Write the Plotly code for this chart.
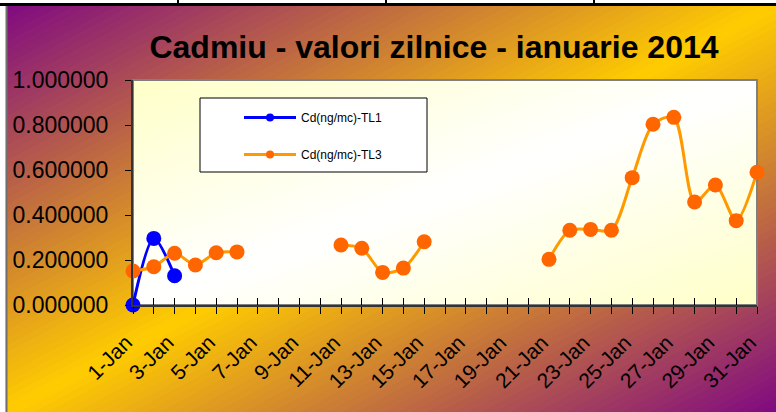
import plotly.graph_objects as go

# ---------------- data ----------------
days = list(range(1, 32))
tick_days = [1, 3, 5, 7, 9, 11, 13, 15, 17, 19, 21, 23, 25, 27, 29, 31]
tick_labels = ["1-Jan", "3-Jan", "5-Jan", "7-Jan", "9-Jan", "11-Jan", "13-Jan", "15-Jan",
               "17-Jan", "19-Jan", "21-Jan", "23-Jan", "25-Jan", "27-Jan", "29-Jan", "31-Jan"]
tl1 = [0.000, 0.296, 0.130] + [None] * 28
tl3 = [0.151, 0.170, 0.230, 0.178, 0.232, 0.236, None, None, None, None,
       0.267, 0.252, 0.145, 0.164, 0.281, None, None, None, None, None,
       0.203, 0.332, 0.336, 0.332, 0.566, 0.803, 0.834, 0.458, 0.533, 0.375, 0.590]
y_ticks = [0.0, 0.2, 0.4, 0.6, 0.8, 1.0]
name1 = "Cd(ng/mc)-TL1"
name3 = "Cd(ng/mc)-TL3"
title = "Cadmiu - valori zilnice - ianuarie 2014"

# ---------------- geometry (pixels) ----------------
W, H = 776, 412
L, R, T, B = 133, 757, 80, 305
PW, PH = R - L, B - T


def px(x):
    return (x - L) / PW


def py(y):
    return (B - y) / PH


def clip(poly, a, b, c):
    # keep a*x + b*y >= c
    out = []
    n = len(poly)
    for i in range(n):
        p, q = poly[i], poly[(i + 1) % n]
        fp = a * p[0] + b * p[1] - c
        fq = a * q[0] + b * q[1] - c
        if fp >= 0:
            out.append(p)
        if (fp >= 0) != (fq >= 0):
            t = fp / (fp - fq)
            out.append((p[0] + t * (q[0] - p[0]), p[1] + t * (q[1] - p[1])))
    return out


def path_of(poly):
    return "M " + " L ".join(f"{px(x):.5f},{py(y):.5f}" for x, y in poly) + " Z"


def mix(c1, c2, t):
    return "rgb(%d,%d,%d)" % tuple(round(a + (b - a) * t) for a, b in zip(c1, c2))


def gradient_shapes(x0, y0, x1, y1, cend, cmid, n):
    shapes = []
    rect = [(x0, y0), (x1, y0), (x1, y1), (x0, y1)]
    w, h = x1 - x0, y1 - y0
    for i in range(n):
        s0 = 2.0 * i / n
        smid = 2.0 * (i + 0.5) / n
        t = smid / 2.0
        f = 1 - abs(t - 0.5) * 2  # 0 at ends, 1 in the middle
        col = mix(cend, cmid, f)
        poly = rect if i == 0 else clip(rect, 1 / w, 1 / h, s0 + x0 / w + y0 / h)
        if len(poly) < 3:
            continue
        shapes.append(dict(type="path", xref="paper", yref="paper", path=path_of(poly),
                           fillcolor=col, line=dict(width=0), layer="below"))
    return shapes


shapes = []
# outer gradient frame
shapes += gradient_shapes(6, 5, W, H, (128, 10, 130), (255, 204, 0), 110)
# plot area gradient
shapes += gradient_shapes(L, T, R, B, (255, 255, 200), (255, 255, 255), 40)
# plot area border
shapes.append(dict(type="rect", xref="paper", yref="paper", x0=0, y0=0, x1=1, y1=1,
                   line=dict(color="#808080", width=2), fillcolor="rgba(0,0,0,0)", layer="below"))
# left gray frame line and top black line
shapes.append(dict(type="line", xref="paper", yref="paper", x0=px(6.5), x1=px(6.5), y0=py(5), y1=py(H + 2),
                   line=dict(color="#707070", width=2), layer="below"))
shapes.append(dict(type="line", xref="paper", yref="paper", x0=px(0), x1=px(W + 2), y0=py(4.5), y1=py(4.5),
                   line=dict(color="#000000", width=3), layer="below"))
for vx in (178, 386, 594):
    shapes.append(dict(type="line", xref="paper", yref="paper", x0=px(vx), x1=px(vx), y0=py(-2), y1=py(5),
                       line=dict(color="#000000", width=2), layer="below"))
# legend box
shapes.append(dict(type="rect", xref="paper", yref="paper", x0=px(200), x1=px(427), y0=py(98), y1=py(172),
                   line=dict(color="#000000", width=1), fillcolor="#FFFFFF", layer="below"))

fig = go.Figure()
fig.add_trace(go.Scatter(x=days, y=tl1, mode="lines+markers", name=name1, showlegend=False,
                         line=dict(color="#0000FF", width=3, shape="spline", smoothing=0.8),
                         marker=dict(color="#0000FF", size=15), cliponaxis=False, connectgaps=False))
fig.add_trace(go.Scatter(x=days, y=tl3, mode="lines+markers", name=name3, showlegend=False,
                         line=dict(color="#FF9900", width=3, shape="spline", smoothing=0.8),
                         marker=dict(color="#FF6600", size=15), cliponaxis=False, connectgaps=False))
# legend entries
fig.add_trace(go.Scatter(x=[None], y=[None], mode="lines+markers", name=name1, legendgroup="a",
                         line=dict(color="#0000FF", width=3), marker=dict(color="#0000FF", size=8),
                         xaxis="x2"))
fig.add_trace(go.Scatter(x=[None], y=[None], mode="lines+markers", name=name3, legendgroup="b",
                         line=dict(color="#FF9900", width=3), marker=dict(color="#FF6600", size=8),
                         xaxis="x2"))

tickvals_all = days
ticktext_all = [tick_labels[tick_days.index(d)] if d in tick_days else "" for d in days]

fig.update_layout(
    width=W, height=H,
    margin=dict(l=L, r=W - R, t=T, b=H - B, pad=0, autoexpand=False),
    paper_bgcolor="#FFFFFF",
    plot_bgcolor="rgba(0,0,0,0)",
    font=dict(family="Liberation Sans, Arial, sans-serif", color="#000000"),
    title=dict(text=title, x=434 / W, xref="container", xanchor="center",
               y=1 - 47 / H, yref="container", yanchor="middle", automargin=False,
               font=dict(size=32, weight="bold", color="#000000")),
    shapes=shapes,
    showlegend=True,
    legend=dict(x=px(239), y=py(103), xanchor="left", yanchor="top", bgcolor="rgba(0,0,0,0)",
                borderwidth=0, font=dict(size=12), tracegroupgap=18, traceorder="grouped",
                itemwidth=52),
    xaxis=dict(range=[1, 31], tickmode="array", tickvals=tickvals_all, ticktext=ticktext_all,
               ticks="outside", ticklen=7, tickwidth=1, tickcolor="#000000", tickangle=-45,
               tickfont=dict(size=21), ticklabelstandoff=8, ticklabelshift=-7, automargin=False,
               showline=True, linecolor="#333333", linewidth=2, showgrid=False, zeroline=False),
    xaxis2=dict(range=[1, 31], overlaying="x", anchor="y", side="bottom", matches="x",
                tickmode="array", tickvals=tickvals_all, ticks="inside", ticklen=7, tickwidth=1,
                tickcolor="#000000", showticklabels=False, showline=False, showgrid=False,
                zeroline=False, automargin=False),
    yaxis=dict(range=[0, 1], tickmode="array", tickvals=y_ticks, tickformat=".6f",
               ticks="outside", ticklen=6, tickwidth=1, tickcolor="#000000",
               tickfont=dict(size=23), ticklabelstandoff=12, automargin=False,
               showline=True, linecolor="#333333", linewidth=2, showgrid=False, zeroline=False),
)

fig.write_html("out.html", config={"displayModeBar": False},
               post_script="document.body.style.margin='0px';document.body.style.overflow='hidden';")
